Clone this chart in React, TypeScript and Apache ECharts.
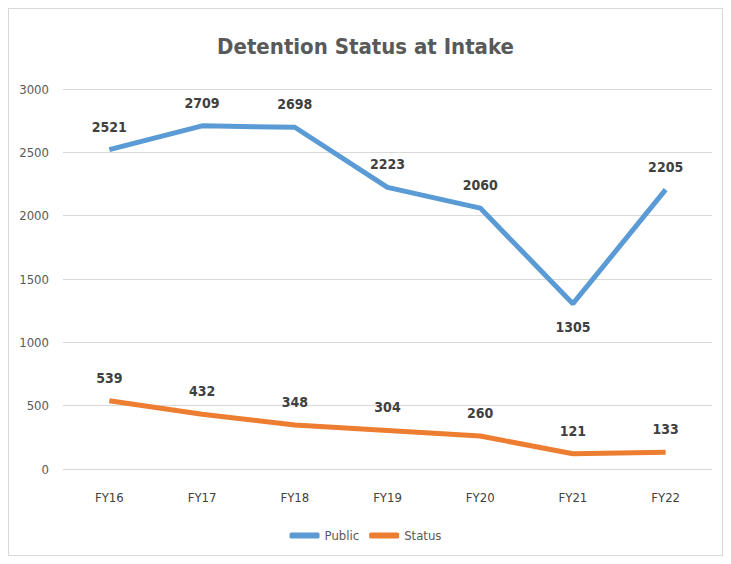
import React, { useEffect, useRef } from "react";
import * as echarts from "echarts";

const categories = ["FY16", "FY17", "FY18", "FY19", "FY20", "FY21", "FY22"];
const publicValues = [2521, 2709, 2698, 2223, 2060, 1305, 2205];
const statusValues = [539, 432, 348, 304, 260, 121, 133];
const belowLabelIndex = 5;

const FONT = "'Liberation Sans Narrow', 'DejaVu Sans Condensed', 'Open Sans', sans-serif";

export default function App() {
  const ref = useRef<HTMLDivElement>(null);
  useEffect(() => {
    if (!ref.current) return;
    const chart = echarts.init(ref.current, undefined, { renderer: "svg" });
    const labelStyle = {
      show: true,
      position: "top",
      distance: 16,
      fontSize: 14,
      fontWeight: "bold",
      color: "#404040",
      fontFamily: FONT,
    };
    chart.setOption({
      animation: false,
      backgroundColor: "#ffffff",
      title: {
        text: "Detention Status at Intake",
        left: "center",
        top: 21,
        textStyle: { fontSize: 22, fontWeight: "bold", color: "#595959", fontFamily: FONT },
      },
      legend: {
        bottom: 8,
        left: "center",
        itemWidth: 30,
        itemHeight: 6,
        itemGap: 10,
        icon: "roundRect",
        textStyle: { fontSize: 13, color: "#595959", fontFamily: FONT },
        data: ["Public", "Status"],
      },
      grid: { left: 54, right: 10, top: 80, bottom: 86 },
      xAxis: {
        type: "category",
        data: categories,
        boundaryGap: true,
        axisLine: { show: false },
        axisTick: { show: false },
        axisLabel: { margin: 22, fontSize: 13, color: "#404040", fontFamily: FONT },
      },
      yAxis: {
        type: "value",
        min: 0,
        max: 3000,
        interval: 500,
        axisLabel: {
          margin: 14,
          fontSize: 13,
          color: "#595959",
          fontFamily: FONT,
          formatter: (v: number) => String(v),
        },
        splitLine: { lineStyle: { color: "#d9d9d9", width: 1 } },
      },
      series: [
        {
          name: "Public",
          type: "line",
          data: publicValues.map((v, i) =>
            i === belowLabelIndex
              ? { value: v, label: { position: "bottom", distance: 16 } }
              : v
          ),
          showSymbol: true,
          symbol: "circle",
          symbolSize: 0,
          lineStyle: { color: "#5B9BD5", width: 5 },
          itemStyle: { color: "#5B9BD5" },
          label: labelStyle,
        },
        {
          name: "Status",
          type: "line",
          data: statusValues,
          showSymbol: true,
          symbol: "circle",
          symbolSize: 0,
          lineStyle: { color: "#ED7D31", width: 5 },
          itemStyle: { color: "#ED7D31" },
          label: labelStyle,
        },
      ],
    });
    return () => chart.dispose();
  }, []);
  return (
    <div
      ref={ref}
      style={{ width: 715, height: 548, border: "1px solid #d9d9d9", boxSizing: "border-box" }}
    />
  );
}
